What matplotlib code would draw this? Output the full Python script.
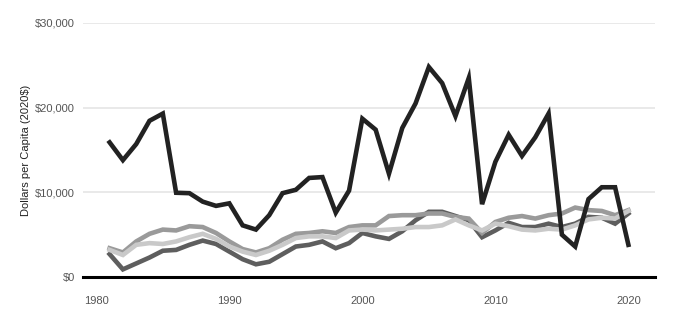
import matplotlib
matplotlib.use("Agg")
import matplotlib.pyplot as plt
from matplotlib.ticker import FuncFormatter

plt.rcParams['font.family'] = ['Liberation Sans', 'DejaVu Sans']

years = list(range(1981, 2021))

series_black = [15900, 13800, 15700, 18450, 19300, 9950, 9900, 8900, 8400, 8700,
                6100, 5600, 7300, 9900, 10300, 11700, 11800, 7600, 10200, 18700,
                17400, 12200, 17600, 20500, 24800, 22900, 19000, 23500, 8600, 13600,
                16800, 14300, 16500, 19300, 5000, 3600, 9200, 10600, 10600, 3800]

series_dark = [2700, 900, 1600, 2300, 3100, 3200, 3800, 4300, 3900, 3000,
               2100, 1500, 1800, 2700, 3600, 3800, 4200, 3400, 4000, 5200,
               4800, 4500, 5400, 6700, 7700, 7700, 7200, 6700, 4700, 5500,
               6400, 5900, 5900, 6300, 5900, 6300, 7100, 7000, 6300, 7500]

series_mid = [3400, 2900, 4200, 5100, 5600, 5500, 6000, 5900, 5200, 4200,
              3300, 2900, 3400, 4400, 5100, 5200, 5400, 5200, 5900, 6100,
              6100, 7200, 7300, 7300, 7500, 7500, 7100, 6900, 5200, 6500,
              7000, 7200, 6900, 7300, 7500, 8200, 7900, 7800, 7300, 7900]

series_light = [3200, 2600, 3800, 4000, 3900, 4200, 4700, 5100, 4500, 3600,
                3000, 2600, 3100, 3800, 4600, 4800, 4800, 4600, 5500, 5600,
                5500, 5600, 5700, 5900, 5900, 6100, 6800, 6100, 5500, 6300,
                6000, 5600, 5500, 5700, 5600, 6100, 6800, 7000, 6900, 7800]

y_ticks = [0, 10000, 20000, 30000]
x_ticks = [1980, 1990, 2000, 2010, 2020]

fig = plt.figure(figsize=(6.76, 3.25), dpi=100)
ax = fig.add_axes([83/676, 1 - 277/325, (655 - 83)/676, (277 - 23)/325])

lw = 3.3
ax.plot(years, series_dark, color='#5e5e5e', lw=lw, solid_joinstyle='miter', zorder=3)
ax.plot(years, series_mid, color='#9a9a9a', lw=lw, solid_joinstyle='miter', zorder=4)
ax.plot(years, series_light, color='#c9c9c9', lw=lw, solid_joinstyle='miter', zorder=5)
ax.plot(years, series_black, color='#222222', lw=lw, solid_joinstyle='miter', zorder=6)

ax.set_xlim(1979, 2022)
ax.set_ylim(0, 30000)
ax.set_yticks(y_ticks)
ax.set_xticks(x_ticks)
ax.yaxis.set_major_formatter(FuncFormatter(lambda v, p: f"${int(v):,}"))
ax.grid(axis='y', color='#e5e5e5', lw=1.2, zorder=0)
ax.set_axisbelow(True)
for s in ['top', 'right', 'left']:
    ax.spines[s].set_visible(False)
ax.spines['bottom'].set_color('black')
ax.spines['bottom'].set_linewidth(2.2)
ax.spines['bottom'].set_zorder(7)
ax.tick_params(axis='both', length=0, labelsize=8, labelcolor='#555555')
ax.tick_params(axis='y', pad=6)
ax.tick_params(axis='x', pad=14)
ax.set_ylabel("Dollars per Capita (2020$)", fontsize=8, color='#222222', labelpad=3)

fig.savefig("out.png", dpi=100)
